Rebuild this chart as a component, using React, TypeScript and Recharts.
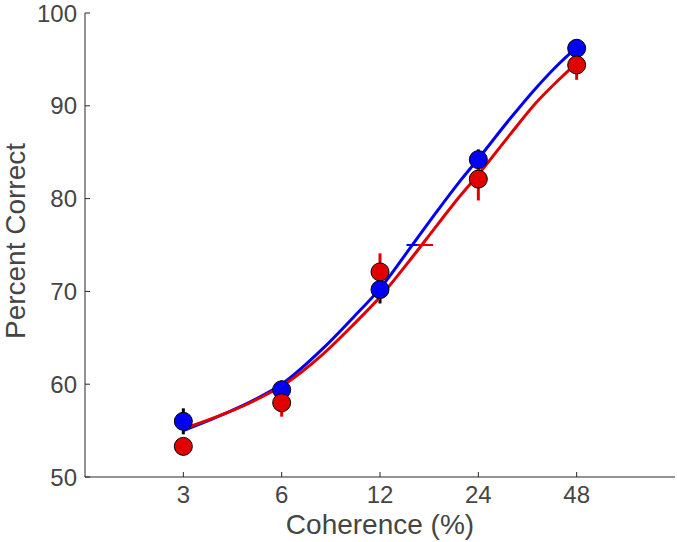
import React from 'react';
import { ComposedChart, Line, Scatter, XAxis, YAxis, ErrorBar, Label } from 'recharts';

// coherence levels (%) and percent correct per condition
const coherence = [3, 6, 12, 24, 48];
const bluePct = [56.0, 59.4, 70.2, 84.2, 96.2];
const blueErr = [1.4, 1.0, 1.5, 1.1, 0.6];
const redPct = [53.3, 58.0, 72.1, 82.1, 94.4];
const redErr = [0.8, 1.5, 2.0, 2.3, 1.6];

// fitted psychometric curves
const fitX = [3, 4, 5, 6, 8, 10, 12, 15, 18, 21, 24, 30, 36, 42, 48];
const blueFit = [55.0, 56.8, 58.4, 60.0, 63.8, 67.3, 70.3, 74.9, 78.7, 81.8, 84.3, 88.6, 91.9, 94.4, 96.3];
const redFit = [55.2, 56.8, 58.3, 59.8, 63.2, 66.5, 69.4, 73.6, 77.2, 80.2, 82.6, 86.9, 90.3, 92.7, 94.6];

// 75% thresholds
const thresholdPct = 75;
const blueThreshold = 15.3;
const redThreshold = 16.5;

const xTicks = [3, 6, 12, 24, 48];
const yTicks = [50, 60, 70, 80, 90, 100];

const BLUE = '#0000f5';
const RED = '#e00000';
const TEXT = '#454545';
const FONT = '"Liberation Sans", Arial, sans-serif';

const points = (ys: number[], errs: number[]) =>
  coherence.map((x, i) => ({ x, y: ys[i], err: errs[i] }));
const curve = (ys: number[]) => fitX.map((x, i) => ({ x, y: ys[i] }));

const blueData = points(bluePct, blueErr);
const redData = points(redPct, redErr);

const dot = (fill: string) => (p: any) => (
  <circle cx={p.cx} cy={p.cy} r={9} fill={fill} stroke="#000" strokeWidth={1} />
);
const dash = (color: string) => (p: any) => (
  <line x1={p.cx - 8} x2={p.cx + 8} y1={p.cy} y2={p.cy} stroke={color} strokeWidth={2} />
);

const YTitle = (props: any) => {
  const { viewBox } = props;
  const cx = viewBox.x + 15;
  const cy = viewBox.y + viewBox.height / 2 - 4;
  return (
    <text x={cx} y={cy} transform={`rotate(-90 ${cx} ${cy})`} textAnchor="middle"
      dominantBaseline="central" fill={TEXT} fontSize={28} fontFamily={FONT}>
      Percent Correct
    </text>
  );
};

const XTitle = (props: any) => {
  const { viewBox } = props;
  const cx = viewBox.x + viewBox.width / 2;
  return (
    <text x={cx} y={viewBox.y + 47} textAnchor="middle" dominantBaseline="central"
      fill={TEXT} fontSize={28} fontFamily={FONT}>
      Coherence (%)
    </text>
  );
};

export default function App() {
  const tick = { fill: TEXT, fontSize: 24, fontFamily: FONT };
  return (
    <div style={{ position: 'absolute', left: 0, top: 0 }}>
      <ComposedChart width={677} height={542} margin={{ top: 13, right: 2, bottom: 0, left: 0 }}>
        <XAxis dataKey="x" type="number" scale="log" domain={[1.5, 96]} ticks={xTicks}
          allowDataOverflow height={65} tick={tick} tickSize={-5} tickMargin={14}
          stroke="#262626" tickLine={{ stroke: '#262626' }}>
          <Label content={<XTitle />} />
        </XAxis>
        <YAxis dataKey="y" type="number" domain={[50, 100]} ticks={yTicks} width={85}
          tick={tick} tickSize={-5} tickMargin={13} stroke="#262626"
          tickLine={{ stroke: '#262626' }}>
          <Label content={<YTitle />} />
        </YAxis>
        <Scatter data={blueData} shape={dot(BLUE)} isAnimationActive={false}>
          <ErrorBar dataKey="err" direction="y" width={0} stroke="#000" strokeWidth={3} />
        </Scatter>
        <Scatter data={redData} shape={dot(RED)} isAnimationActive={false}>
          <ErrorBar dataKey="err" direction="y" width={0} stroke={RED} strokeWidth={3} />
        </Scatter>
        <Line data={curve(blueFit)} dataKey="y" type="monotone" stroke={BLUE} strokeWidth={3}
          dot={false} activeDot={false} isAnimationActive={false} />
        <Line data={curve(redFit)} dataKey="y" type="monotone" stroke={RED} strokeWidth={3}
          dot={false} activeDot={false} isAnimationActive={false} />
        <Scatter data={[{ x: blueThreshold, y: thresholdPct }]} shape={dash(BLUE)} isAnimationActive={false} />
        <Scatter data={[{ x: redThreshold, y: thresholdPct }]} shape={dash(RED)} isAnimationActive={false} />
      </ComposedChart>
    </div>
  );
}
